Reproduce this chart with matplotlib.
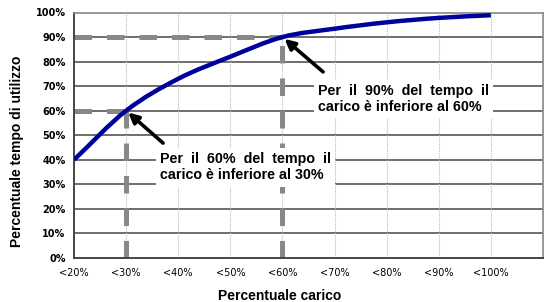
import matplotlib
matplotlib.use("Agg")
import matplotlib.pyplot as plt
from matplotlib.path import Path
from matplotlib.patches import PathPatch

categories = ["<20%", "<30%", "<40%", "<50%", "<60%", "<70%", "<80%", "<90%", "<100%"]
usage = [40, 60, 73, 82, 90, 93.4, 96, 97.8, 98.9]
y_ticks = [0, 10, 20, 30, 40, 50, 60, 70, 80, 90, 100]
y_tick_labels = [f"{v}%" for v in y_ticks]
ann1_text = "Per  il  90%  del  tempo  il\ncarico è inferiore al 60%"
ann2_text = "Per  il  60%  del  tempo  il\ncarico è inferiore al 30%"
ref1 = (4, 90)
ref2 = (1, 60)

fig = plt.figure(figsize=(5.47, 3.02), dpi=100)
W, H = 547, 302
ax = fig.add_axes([74 / W, 1 - 258 / H, (543 - 74) / W, (258 - 12.5) / H])

x = list(range(len(categories)))
ax.set_xlim(0, 9)
ax.set_ylim(0, 100)

# grid
for v in y_ticks[1:-1]:
    ax.axhline(v, color="#555555", lw=1.2, zorder=1)
for i in x[1:]:
    ax.axvline(i, color="#bbbbbb", lw=0.8, ls=(0, (1, 1)), zorder=1)

# dashed reference lines
dash_kw = dict(color="#888888", lw=3.6, ls=(0, (3.5, 3)), zorder=2, solid_capstyle="butt")
ax.plot([0, ref1[0]], [ref1[1], ref1[1]], **dash_kw)
ax.plot([ref1[0], ref1[0]], [0, ref1[1]], **dash_kw)
ax.plot([0, ref2[0]], [ref2[1], ref2[1]], **dash_kw)
ax.plot([ref2[0], ref2[0]], [0, ref2[1]], **dash_kw)

# smooth curve (cubic Bezier path through the data points)
n = len(x)
tang = []
for i in range(n):
    a = max(i - 1, 0)
    b = min(i + 1, n - 1)
    tang.append(((x[b] - x[a]) / (b - a), (usage[b] - usage[a]) / (b - a)))
verts = [(x[0], usage[0])]
codes = [Path.MOVETO]
for i in range(n - 1):
    verts += [(x[i] + tang[i][0] / 3, usage[i] + tang[i][1] / 3),
              (x[i + 1] - tang[i + 1][0] / 3, usage[i + 1] - tang[i + 1][1] / 3),
              (x[i + 1], usage[i + 1])]
    codes += [Path.CURVE4] * 3
ax.add_patch(PathPatch(Path(verts, codes), fc="none", ec="#00009a", lw=3.2, zorder=4,
                       capstyle="butt"))

# annotations
box = dict(boxstyle="square,pad=0.3", fc="white", ec="none")
arrow_kw = dict(arrowstyle="-|>,head_length=0.6,head_width=0.3", color="black", lw=2.6,
                shrinkA=0, shrinkB=2)
ax.annotate("", xy=ref1, xytext=(4.78, 75.8), arrowprops=arrow_kw, zorder=5)
ax.annotate("", xy=ref2, xytext=(1.71, 46.8), arrowprops=arrow_kw, zorder=5)
ax.text(4.68, 64.8, ann1_text, ha="left", va="center", fontsize=10.3, fontweight="bold",
        family="Liberation Sans", linespacing=1.2, bbox=box, zorder=3)
ax.text(1.65, 37.0, ann2_text, ha="left", va="center", fontsize=10.3, fontweight="bold",
        family="Liberation Sans", linespacing=1.2, bbox=box, zorder=3)

# axes styling
for s in ["top", "right"]:
    ax.spines[s].set_color("#888888")
    ax.spines[s].set_linewidth(1.2)
for s in ["left", "bottom"]:
    ax.spines[s].set_color("#444444")
    ax.spines[s].set_linewidth(1.4)

ax.set_yticks(y_ticks)
ax.set_yticklabels(y_tick_labels, fontsize=7, fontweight="bold", family="DejaVu Sans")
ax.set_xticks(x)
ax.set_xticklabels(categories, fontsize=7, family="DejaVu Sans")
ax.tick_params(axis="both", length=0)
ax.tick_params(axis="y", pad=6)
ax.tick_params(axis="x", pad=7)

fig.text(17 / W, 1 - 151 / H, "Percentuale tempo di utilizzo", rotation=90, ha="center", va="center",
         fontsize=10, fontweight="bold", family="Liberation Sans")
fig.text(280 / W, 1 - 296 / H, "Percentuale carico", ha="center", va="center",
         fontsize=10, fontweight="bold", family="Liberation Sans")

fig.savefig("out.png", dpi=100)
